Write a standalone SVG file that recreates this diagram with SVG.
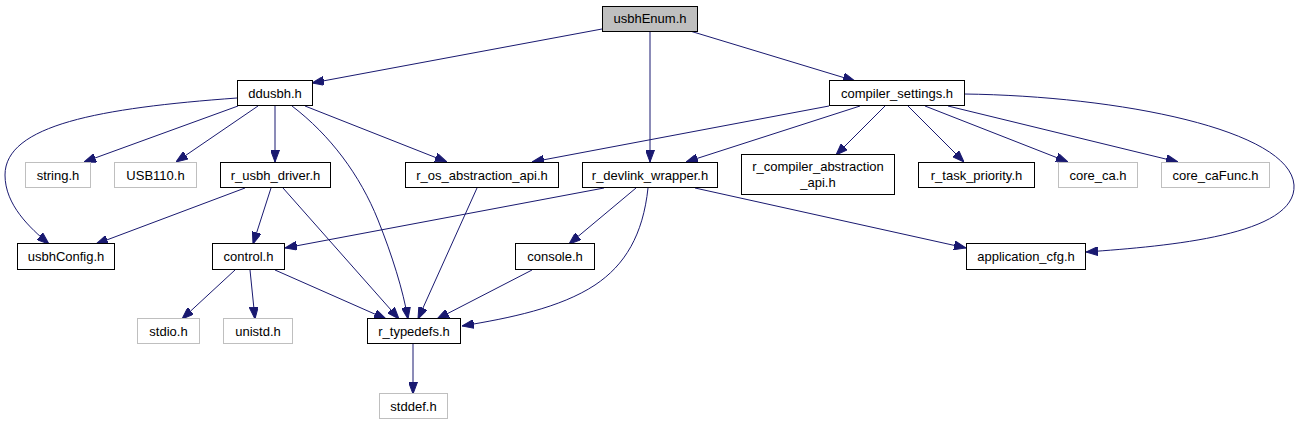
<svg xmlns="http://www.w3.org/2000/svg" width="1300" height="425" viewBox="0 0 1300 425">
<defs>
<marker id="arr" viewBox="0 0 12 9" refX="12" refY="4.5" markerWidth="12" markerHeight="9" markerUnits="userSpaceOnUse" orient="auto">
<path d="M0,0 L12,4.5 L0,9 z" fill="#191970" stroke="#191970" stroke-width="1"/>
</marker>
<style>
.n rect{fill:#ffffff;stroke:#000000;stroke-width:1}
.g rect{fill:#ffffff;stroke:#bfbfbf;stroke-width:1}
.root rect{fill:#bfbfbf;stroke:#000000;stroke-width:1}
text{font-family:"Liberation Sans",Arial,sans-serif;font-size:13px;fill:#000000;text-anchor:middle}
#edges path{fill:none;stroke:#191970;stroke-width:1;marker-end:url(#arr)}
</style>
</defs>
<rect width="1300" height="425" fill="#ffffff"/>
<g id="edges">
<path d="M602,29 L312,83"/>
<path d="M650,31 L650,162"/>
<path d="M690,31 L855,81"/>
<path d="M237,98 C100,108 5,125 5,175 C5,205 30,228 49,244"/>
<path d="M238,106 L84,162"/>
<path d="M258,106 L176,162"/>
<path d="M275,106 L275,162"/>
<path d="M305,106 L447,162"/>
<path d="M292,106 C330,135 360,175 378,220 C392,255 403,290 408,319"/>
<path d="M245,188 L96,244"/>
<path d="M271,188 L253,244"/>
<path d="M283,188 L399,319"/>
<path d="M477,188 L418,319"/>
<path d="M604,188 L285,248"/>
<path d="M636,188 L569,244"/>
<path d="M648,188 C643,235 625,265 595,285 C560,308 510,318 462,326"/>
<path d="M695,188 L966,248"/>
<path d="M235,270 L182,319"/>
<path d="M250,270 L255,319"/>
<path d="M275,270 L386,319"/>
<path d="M532,270 L437,319"/>
<path d="M413,344 L413,394"/>
<path d="M829,106 L532,162"/>
<path d="M860,106 L686,162"/>
<path d="M885,106 L836,155"/>
<path d="M908,106 L964,162"/>
<path d="M925,106 L1068,162"/>
<path d="M948,106 L1178,162"/>
<path d="M964,94 C1120,96 1290,130 1294,185 C1297,235 1170,246 1086,252"/>
</g>
<g id="usbhEnum" class="root"><rect x="602.5" y="6.5" width="95" height="25"/><text x="650" y="23">usbhEnum.h</text></g>
<g id="ddusbh" class="n"><rect x="237.5" y="80.5" width="75" height="25"/><text x="275" y="98">ddusbh.h</text></g>
<g id="compiler_settings" class="n"><rect x="829.5" y="80.5" width="135" height="25"/><text x="897" y="98">compiler_settings.h</text></g>
<g id="string" class="g"><rect x="25.5" y="162.5" width="65" height="25"/><text x="58" y="180">string.h</text></g>
<g id="USB110" class="g"><rect x="114.5" y="162.5" width="82" height="25"/><text x="155.5" y="180">USB110.h</text></g>
<g id="r_usbh_driver" class="n"><rect x="220.5" y="162.5" width="110" height="25"/><text x="275.5" y="180">r_usbh_driver.h</text></g>
<g id="r_os_abstraction_api" class="n"><rect x="405.5" y="162.5" width="153" height="25"/><text x="482" y="180">r_os_abstraction_api.h</text></g>
<g id="r_devlink_wrapper" class="n"><rect x="582.5" y="162.5" width="135" height="25"/><text x="650" y="180">r_devlink_wrapper.h</text></g>
<g id="r_compiler_abstraction_api" class="n"><rect x="741.5" y="154.5" width="153" height="40"/><text x="818" y="171">r_compiler_abstraction</text><text x="818" y="187">_api.h</text></g>
<g id="r_task_priority" class="n"><rect x="918.5" y="162.5" width="116" height="25"/><text x="976.5" y="180">r_task_priority.h</text></g>
<g id="core_ca" class="g"><rect x="1058.5" y="162.5" width="79" height="25"/><text x="1098" y="180">core_ca.h</text></g>
<g id="core_caFunc" class="g"><rect x="1161.5" y="162.5" width="108" height="25"/><text x="1215.5" y="180">core_caFunc.h</text></g>
<g id="usbhConfig" class="n"><rect x="17.5" y="243.5" width="97" height="26"/><text x="66" y="261">usbhConfig.h</text></g>
<g id="control" class="n"><rect x="212.5" y="243.5" width="72" height="26"/><text x="248.5" y="261">control.h</text></g>
<g id="console" class="n"><rect x="515.5" y="243.5" width="79" height="26"/><text x="555" y="261">console.h</text></g>
<g id="application_cfg" class="n"><rect x="966.5" y="243.5" width="119" height="26"/><text x="1026" y="261">application_cfg.h</text></g>
<g id="stdio" class="g"><rect x="137.5" y="318.5" width="62" height="25"/><text x="168.5" y="336">stdio.h</text></g>
<g id="unistd" class="g"><rect x="223.5" y="318.5" width="69" height="25"/><text x="258" y="336">unistd.h</text></g>
<g id="r_typedefs" class="n"><rect x="367.5" y="318.5" width="93" height="25"/><text x="414" y="336">r_typedefs.h</text></g>
<g id="stddef" class="g"><rect x="379.5" y="393.5" width="68" height="25"/><text x="413.5" y="411">stddef.h</text></g>
</svg>
